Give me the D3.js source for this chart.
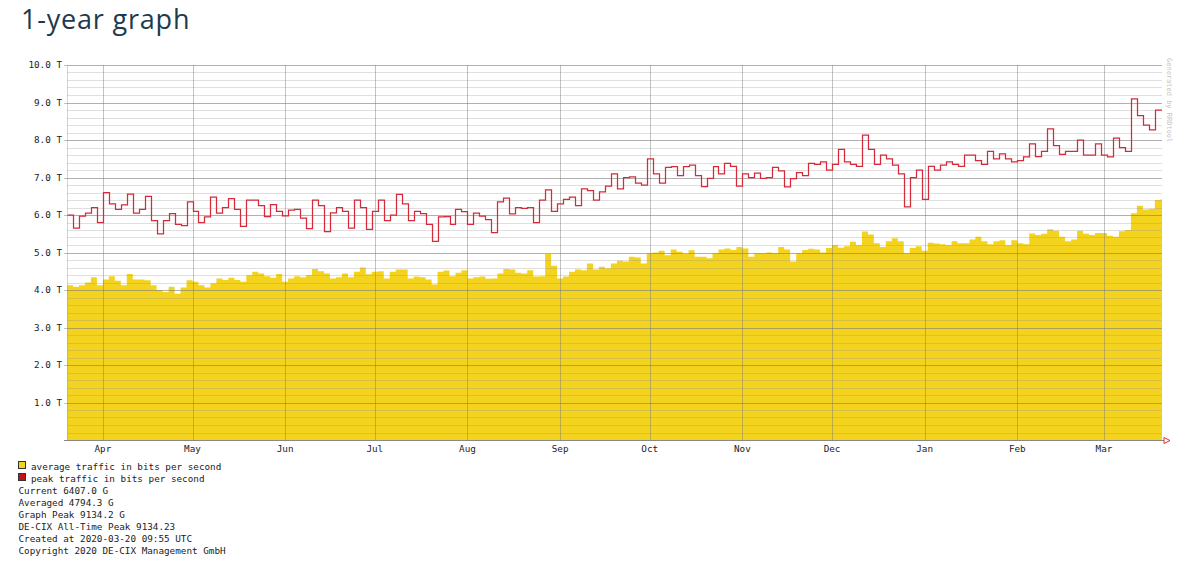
<!DOCTYPE html>
<html>
<head>
<meta charset="utf-8">
<title>1-year graph</title>
<script src="https://cdn.jsdelivr.net/npm/d3@7"></script>
<style>
  body { margin: 0; background: #fff; }
  svg text { font-family: "DejaVu Sans Mono", monospace; }
</style>
</head>
<body>
<svg id="chart"></svg>
<script>
// one value every 2 days, starting 2019-03-20 (Tbit/s)
const startDay = new Date(Date.UTC(2019, 2, 20));
const endTime = new Date(Date.UTC(2020, 2, 20, 9, 55));
const stepDays = 2;

const avgTraffic = [
  4.13, 4.09, 4.13, 4.2, 4.34, 4.13, 4.28, 4.37, 4.25, 4.13,
  4.43, 4.28, 4.28, 4.26, 4.13, 4.0, 3.95, 4.09, 3.9, 4.07,
  4.26, 4.22, 4.13, 4.07, 4.18, 4.31, 4.27, 4.33, 4.27, 4.22,
  4.4, 4.49, 4.44, 4.37, 4.33, 4.43, 4.22, 4.31, 4.37, 4.34,
  4.4, 4.56, 4.5, 4.44, 4.31, 4.34, 4.44, 4.34, 4.49,
  4.6, 4.42, 4.49, 4.5, 4.31, 4.49, 4.55, 4.55, 4.31, 4.36,
  4.34, 4.28, 4.15, 4.49, 4.52, 4.37, 4.46, 4.53, 4.31, 4.34,
  4.36, 4.3, 4.31, 4.44, 4.56, 4.55, 4.46, 4.44, 4.53, 4.36,
  4.37, 4.96, 4.65, 4.31, 4.36, 4.49, 4.55, 4.53, 4.71, 4.55,
  4.62, 4.58, 4.71, 4.78, 4.76, 4.89, 4.87, 4.71,
  4.98, 5.0, 5.05, 4.93, 5.08, 5.02, 4.96, 5.06, 4.89, 4.89,
  4.85, 4.98, 5.08, 5.11, 5.07, 5.15, 5.11, 4.89, 4.98, 4.98,
  5.0, 4.98, 5.15, 5.08, 4.76, 4.98, 5.07, 5.1,
  5.08, 5.0, 5.12, 5.2, 5.13,
  5.17, 5.29, 5.2, 5.56, 5.48, 5.25, 5.15, 5.3, 5.38, 5.3,
  4.98, 5.12, 5.17, 5.05, 5.26, 5.24, 5.22, 5.2, 5.3, 5.25,
  5.25, 5.35, 5.42, 5.3, 5.22, 5.3, 5.33, 5.2, 5.33, 5.25,
  5.22, 5.51, 5.47, 5.5, 5.62, 5.58, 5.42, 5.3, 5.35, 5.58,
  5.5, 5.47, 5.52, 5.52, 5.45, 5.42, 5.57, 5.6, 6.05, 6.25,
  6.15, 6.17, 6.4, 6.42
];

const peakTraffic = [
  6.0, 5.65, 5.97, 6.05, 6.2, 5.8, 6.6, 6.3, 6.15, 6.27,
  6.56, 6.05, 6.15, 6.5, 5.85, 5.5, 5.85, 6.04, 5.75, 5.72,
  6.35, 6.1, 5.8, 5.95, 6.48, 6.05, 6.2, 6.44, 6.15, 5.7,
  6.4, 6.4, 6.25, 5.96, 6.28, 6.1, 5.98, 6.13, 6.15, 5.92,
  5.64, 6.4, 6.25, 5.56, 6.06, 6.2, 6.1, 5.65, 6.4,
  6.2, 5.62, 6.1, 6.4, 5.85, 6.0, 6.55, 6.3, 5.85, 6.1,
  6.04, 5.75, 5.3, 5.95, 5.96, 5.75, 6.15, 6.09, 5.75, 6.05,
  5.97, 5.88, 5.53, 6.35, 6.45, 6.03, 6.2, 6.18, 6.2, 5.8,
  6.4, 6.67, 6.1, 6.3, 6.42, 6.48, 6.25, 6.7, 6.65, 6.4,
  6.62, 6.77, 7.1, 6.7, 7.0, 7.02, 6.85, 6.8,
  7.5, 7.1, 6.85, 7.27, 7.29, 7.05, 7.29, 7.33, 7.05, 6.76,
  6.98, 7.29, 7.1, 7.38, 7.3, 6.77, 7.1, 7.0, 7.12, 6.98,
  7.0, 7.27, 7.18, 6.75, 6.97, 7.13, 7.05, 7.38,
  7.35, 7.42, 7.2, 7.35, 7.75,
  7.42, 7.35, 7.3, 8.13, 7.75, 7.35, 7.6, 7.5, 7.33, 7.1,
  6.22, 7.0, 7.2, 6.42, 7.3, 7.2, 7.33, 7.42, 7.35, 7.3,
  7.6, 7.6, 7.45, 7.35, 7.7, 7.5, 7.63, 7.5, 7.42, 7.45,
  7.55, 7.9, 7.56, 7.7, 8.3, 7.85, 7.62, 7.7, 7.7, 8.0,
  7.6, 7.6, 7.9, 7.6, 7.55, 8.05, 7.8, 7.7, 9.1, 8.65,
  8.4, 8.27, 8.8, 8.8
];

const yTickLabels = ["1.0 T", "2.0 T", "3.0 T", "4.0 T", "5.0 T", "6.0 T", "7.0 T", "8.0 T", "9.0 T", "10.0 T"];

const legendItems = [
  { label: "average traffic in bits per second", color: "#f4d31e" },
  { label: "peak traffic in bits per second", color: "#c0141c" }
];

const infoLines = [
  "Current 6407.0 G",
  "Averaged 4794.3 G",
  "Graph Peak 9134.2 G",
  "DE-CIX All-Time Peak 9134.23",
  "Created at 2020-03-20 09:55 UTC",
  "Copyright 2020 DE-CIX Management GmbH"
];

const W = 1183, H = 567;
const plotLeft = 67, plotRight = 1162, plotTop = 65, plotBottom = 440;

const svg = d3.select("#chart").attr("width", W).attr("height", H);

svg.append("text")
  .attr("x", 21).attr("y", 29)
  .style("font-family", "'Open Sans', 'Noto Sans', sans-serif")
  .style("font-size", "27px")
  .style("letter-spacing", "0.8px")
  .attr("fill", "#1c3b4e")
  .text("1-year graph");

const x = d3.scaleUtc().domain([startDay, endTime]).range([plotLeft, plotRight]);
const y = d3.scaleLinear().domain([0, 10]).range([plotBottom, plotTop]);

function toPoints(arr) {
  const pts = arr.map((v, i) => ({ t: d3.utcDay.offset(startDay, i * stepDays), v: v }));
  pts.push({ t: endTime, v: arr[arr.length - 1] });
  return pts;
}
const avgPts = toPoints(avgTraffic);
const peakPts = toPoints(peakTraffic);

svg.append("clipPath").attr("id", "plot")
  .append("rect").attr("x", plotLeft).attr("y", plotTop - 2)
  .attr("width", plotRight - plotLeft).attr("height", plotBottom - plotTop + 2);

// average area
svg.append("g").attr("clip-path", "url(#plot)")
  .append("path")
  .datum(avgPts)
  .attr("fill", "#f4d31e")
  .attr("d", d3.area().curve(d3.curveStepAfter)
    .x(d => x(d.t)).y0(y(0)).y1(d => y(d.v)));

// grid
const grid = svg.append("g").attr("shape-rendering", "crispEdges");
grid.selectAll(".minor")
  .data(y.ticks(50))
  .join("line")
  .attr("x1", plotLeft).attr("x2", plotRight)
  .attr("y1", d => Math.round(y(d)) + 0.5).attr("y2", d => Math.round(y(d)) + 0.5)
  .attr("stroke", "rgba(150,150,150,0.3)");
grid.selectAll(".major")
  .data(y.ticks(10).filter(d => d > 0))
  .join("line")
  .attr("x1", plotLeft - 3).attr("x2", plotRight)
  .attr("y1", d => Math.round(y(d)) + 0.5).attr("y2", d => Math.round(y(d)) + 0.5)
  .attr("stroke", "rgba(120,120,120,0.45)");

const months = x.ticks(d3.utcMonth.every(1));
grid.selectAll(".vmonth")
  .data(months)
  .join("line")
  .attr("x1", d => Math.round(x(d)) + 0.5).attr("x2", d => Math.round(x(d)) + 0.5)
  .attr("y1", plotTop).attr("y2", plotBottom)
  .attr("stroke", "rgba(120,120,120,0.45)");
grid.append("line")
  .attr("x1", plotLeft + 0.5).attr("x2", plotLeft + 0.5).attr("y1", plotTop).attr("y2", plotBottom)
  .attr("stroke", "rgba(150,150,150,0.4)");

// peak line, drawn over the grid
svg.append("g").attr("clip-path", "url(#plot)")
  .append("path")
  .datum(peakPts)
  .attr("fill", "none")
  .attr("stroke", "#d42a3a")
  .attr("stroke-width", 1.25)
  .attr("d", d3.line().curve(d3.curveStepAfter)
    .x(d => Math.round(x(d.t)) + 0.5).y(d => y(d.v)));

// axes
svg.append("line")
  .attr("x1", plotLeft - 3).attr("x2", plotRight + 2)
  .attr("y1", plotBottom + 0.5).attr("y2", plotBottom + 0.5)
  .attr("stroke", "#888").attr("shape-rendering", "crispEdges");
svg.append("path")
  .attr("d", `M${plotRight + 2},${plotBottom - 2.5} L${plotRight + 8},${plotBottom + 0.5} L${plotRight + 2},${plotBottom + 3.5} Z`)
  .attr("fill", "none").attr("stroke", "#e03030").attr("stroke-width", 1);

svg.selectAll(".ylab")
  .data(yTickLabels)
  .join("text")
  .attr("x", 62)
  .attr("y", (d, i) => y(i + 1) + 3)
  .attr("text-anchor", "end")
  .style("font-size", "9.3px")
  .attr("fill", "#222")
  .text(d => d);

svg.selectAll(".mlab")
  .data(months)
  .join("text")
  .attr("x", d => x(d))
  .attr("y", 452)
  .attr("text-anchor", "middle")
  .style("font-size", "9.3px")
  .attr("fill", "#222")
  .text(d => d3.utcFormat("%b")(d));

svg.append("text")
  .attr("transform", "translate(1167,58) rotate(90)")
  .style("font-size", "7px")
  .attr("fill", "#c4c4c4")
  .text("Generated by RRDtool");

// legend
const leg = svg.append("g");
legendItems.forEach((item, i) => {
  leg.append("rect")
    .attr("x", 18.5).attr("y", 461.5 + i * 12)
    .attr("width", 7).attr("height", 7)
    .attr("fill", item.color).attr("stroke", "#333")
    .attr("shape-rendering", "crispEdges");
  leg.append("text")
    .attr("x", 31).attr("y", 469.5 + i * 12)
    .style("font-size", "9.3px").attr("fill", "#222")
    .text(item.label);
});
infoLines.forEach((line, i) => {
  leg.append("text")
    .attr("x", 18.5).attr("y", 493.5 + i * 12)
    .style("font-size", "9.3px").attr("fill", "#222")
    .text(line);
});
</script>
</body>
</html>
